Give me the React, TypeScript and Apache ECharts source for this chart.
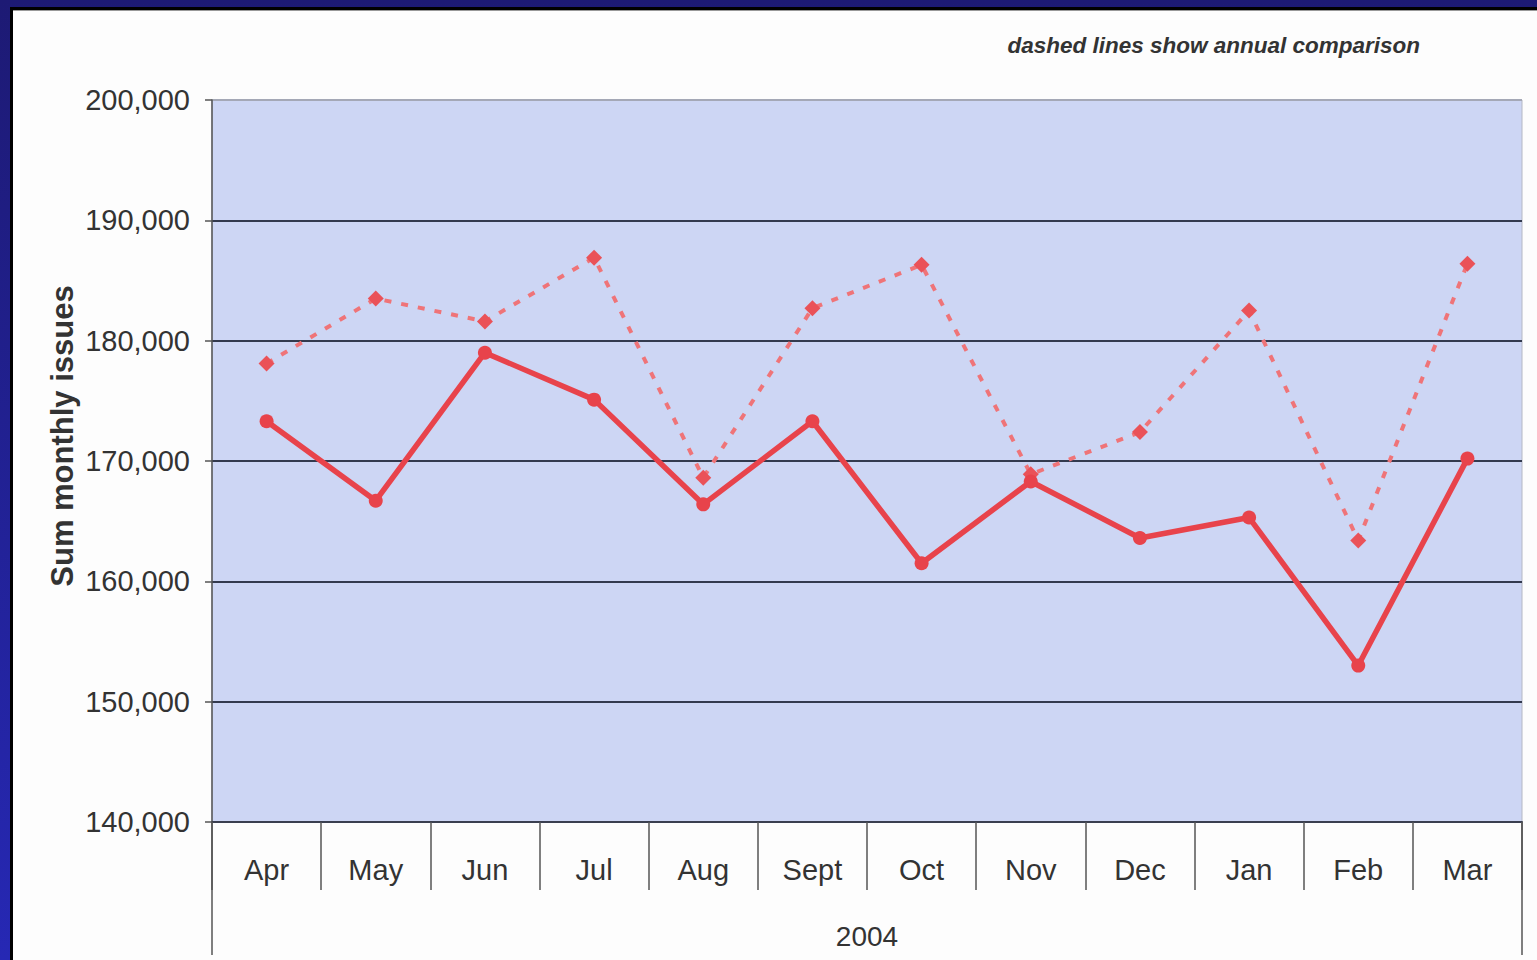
import React, { useEffect, useRef } from "react";
import * as echarts from "echarts";

const months = ["Apr", "May", "Jun", "Jul", "Aug", "Sept", "Oct", "Nov", "Dec", "Jan", "Feb", "Mar"];
const years = ["2004"];
const currentYear = [173300, 166700, 179000, 175100, 166400, 173300, 161500, 168300, 163600, 165300, 153000, 170200];
const priorYear = [178100, 183500, 181600, 186900, 168600, 182700, 186300, 168900, 172400, 182500, 163400, 186400];
const yMin = 140000;
const yMax = 200000;
const yStep = 10000;
const yTitle = "Sum monthly issues";
const note = "dashed lines show annual comparison";

const FONT = "'Liberation Sans', Arial, sans-serif";

export default function App() {
  const ref = useRef<HTMLDivElement>(null);

  useEffect(() => {
    if (!ref.current) return;
    const chart = echarts.init(ref.current, null, { renderer: "svg" });
    const gridLine = "#333a4e";
    chart.setOption({
      animation: false,
      backgroundColor: "transparent",
      grid: {
        left: 212,
        right: 15,
        top: 100,
        bottom: 138,
        show: true,
        backgroundColor: "#cdd6f4",
        borderColor: "#b4b8c4",
        borderWidth: 1,
      },
      xAxis: [
        {
          type: "category",
          data: months,
          position: "bottom",
          boundaryGap: true,
          axisLine: { show: true, lineStyle: { color: "#3a3f50", width: 2 } },
          axisTick: { show: true, interval: 0, length: 68, lineStyle: { color: "#555", width: 1.5 } },
          axisLabel: { interval: 0, margin: 33, fontSize: 29, color: "#333", fontFamily: FONT },
          splitLine: { show: false },
        },
        {
          type: "category",
          data: years,
          position: "bottom",
          boundaryGap: true,
          axisLine: { show: false },
          axisTick: { show: true, interval: 0, length: 133, lineStyle: { color: "#555", width: 1.5 } },
          axisLabel: { interval: 0, margin: 100, fontSize: 28, color: "#333", fontFamily: FONT },
          splitLine: { show: false },
        },
      ],
      yAxis: {
        type: "value",
        min: yMin,
        max: yMax,
        interval: yStep,
        axisLine: { show: true, lineStyle: { color: "#555", width: 1.5 } },
        axisTick: { show: true, length: 7, lineStyle: { color: "#555", width: 1.5 } },
        axisLabel: {
          margin: 22,
          fontSize: 29,
          color: "#333",
          fontFamily: FONT,
          formatter: (v: number) => v.toLocaleString("en-US"),
        },
        splitLine: {
          show: true,
          lineStyle: {
            color: [gridLine, gridLine, gridLine, gridLine, gridLine, gridLine, "#a4a8b6"],
            width: 1.8,
          },
        },
      },
      graphic: [
        {
          type: "text",
          x: 62,
          y: 436,
          rotation: Math.PI / 2,
          style: {
            text: yTitle,
            fill: "#333",
            font: `bold 31px ${FONT}`,
            align: "center",
            verticalAlign: "middle",
          },
        },
        {
          type: "text",
          x: 1420,
          y: 45,
          style: {
            text: note,
            fill: "#333",
            font: `italic bold 22.5px ${FONT}`,
            align: "right",
            verticalAlign: "middle",
          },
        },
      ],
      series: [
        {
          name: "Prior year",
          type: "line",
          data: priorYear,
          symbol: "diamond",
          symbolSize: 16,
          itemStyle: { color: "#ea5258" },
          lineStyle: { color: "#ef7478", width: 4, type: [7, 10] },
          z: 3,
        },
        {
          name: "Current year",
          type: "line",
          data: currentYear,
          symbol: "circle",
          symbolSize: 14,
          itemStyle: { color: "#e8434b" },
          lineStyle: { color: "#e8434b", width: 5.5 },
          z: 4,
        },
      ],
    });
    return () => chart.dispose();
  }, []);

  return (
    <div
      style={{
        position: "absolute",
        left: 0,
        top: 0,
        width: 1537,
        height: 960,
        overflow: "hidden",
        background: "linear-gradient(180deg, #1d1a74 0%, #2628b4 100%)",
      }}
    >
      <div
        style={{
          position: "absolute",
          left: 10,
          top: 7,
          right: 0,
          bottom: 0,
          background: "#000",
        }}
      />
      <div
        style={{
          position: "absolute",
          left: 13,
          top: 10,
          right: 0,
          bottom: 0,
          background: "#fdfdfd",
          borderTop: "1px solid #999",
        }}
      />
      <div ref={ref} style={{ position: "absolute", left: 0, top: 0, width: 1537, height: 960 }} />
    </div>
  );
}
